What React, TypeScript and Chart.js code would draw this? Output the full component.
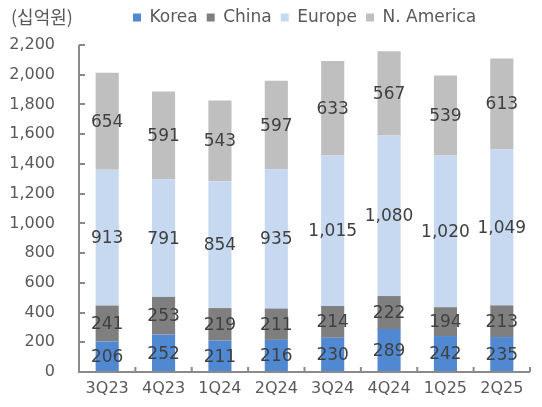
import React, { useEffect, useRef } from "react";
import { Chart, registerables } from "chart.js";

Chart.register(...registerables);

const categories = ["3Q23", "4Q23", "1Q24", "2Q24", "3Q24", "4Q24", "1Q25", "2Q25"];
const korea = [206, 252, 211, 216, 230, 289, 242, 235];
const china = [241, 253, 219, 211, 214, 222, 194, 213];
const europe = [913, 791, 854, 935, 1015, 1080, 1020, 1049];
const nAmerica = [654, 591, 543, 597, 633, 567, 539, 613];
const seriesNames = ["Korea", "China", "Europe", "N. America"];
const unitLabel = "(십억원)";

const FONT = "'DejaVu Sans', sans-serif";
const TEXT = "#595959";
const AXIS = "#8a8a8a";

const fmt = (v: number) => v.toLocaleString("en-US");

const overlayPlugin = {
  id: "overlay",
  afterLayout(chart: any) {
    const lg = chart.legend;
    if (lg) {
      lg.left += 124;
      lg.right += 124;
      lg.top -= 9;
      lg.bottom -= 9;
    }
  },
  afterDatasetsDraw(chart: any) {
    const ctx = chart.ctx;
    ctx.save();
    ctx.font = `17px ${FONT}`;
    ctx.fillStyle = "#404040";
    ctx.textAlign = "center";
    ctx.textBaseline = "middle";
    chart.data.datasets.forEach((ds: any, di: number) => {
      const meta = chart.getDatasetMeta(di);
      meta.data.forEach((bar: any, i: number) => {
        const y = (bar.y + bar.base) / 2;
        ctx.fillText(fmt(ds.data[i]), bar.x, y + 1);
      });
    });
    ctx.restore();
  },
  afterDraw(chart: any) {
    const ctx = chart.ctx;
    const xs = chart.scales.x;
    const ys = chart.scales.y;
    const area = chart.chartArea;
    ctx.save();
    ctx.strokeStyle = AXIS;
    ctx.lineWidth = 2;
    ctx.beginPath();
    ctx.moveTo(area.left, ys.getPixelForValue(2200));
    ctx.lineTo(area.left, area.bottom);
    ctx.lineTo(area.right, area.bottom);
    ys.ticks.forEach((t: any) => {
      const y = Math.round(ys.getPixelForValue(t.value));
      ctx.moveTo(area.left, y);
      ctx.lineTo(area.left + 6, y);
    });
    const n = categories.length;
    for (let k = 0; k <= n; k++) {
      const x =
        k === 0
          ? area.left
          : k === n
          ? area.right
          : (xs.getPixelForValue(k - 1) + xs.getPixelForValue(k)) / 2;
      ctx.moveTo(x, area.bottom);
      ctx.lineTo(x, area.bottom - 5);
    }
    ctx.stroke();
    ctx.font = `18px 'Noto Sans CJK KR', ${FONT}`;
    ctx.fillStyle = TEXT;
    ctx.textAlign = "left";
    ctx.textBaseline = "middle";
    ctx.fillText(unitLabel, 11, 17);
    ctx.restore();
  },
};

export default function App() {
  const ref = useRef<HTMLCanvasElement | null>(null);
  useEffect(() => {
    document.body.style.margin = "0";
    const colors = ["#5089d2", "#7f7f7f", "#c6d9f1", "#bfbfbf"];
    const values = [korea, china, europe, nAmerica];
    const chart = new Chart(ref.current as HTMLCanvasElement, {
      type: "bar",
      data: {
        labels: categories,
        datasets: values.map((d, i) => ({
          label: seriesNames[i],
          data: d,
          backgroundColor: colors[i],
          borderWidth: 0,
          categoryPercentage: 1,
          barPercentage: 0.41,
        })),
      },
      options: {
        animation: false,
        responsive: false,
        maintainAspectRatio: false,
        layout: { padding: { left: 0, right: 12, top: 9, bottom: 0 } },
        plugins: {
          legend: {
            position: "top",
            align: "start",
            labels: {
              boxWidth: 8,
              boxHeight: 8,
              padding: 9,
              color: TEXT,
              font: { family: FONT, size: 17 },
            },
          },
          tooltip: { enabled: false },
        },
        scales: {
          x: {
            stacked: true,
            grid: { display: false, drawTicks: false },
            border: { display: false },
            ticks: { color: TEXT, font: { family: FONT, size: 16 }, padding: 7 },
            afterFit: (s: any) => {
              s.height = 35;
            },
          },
          y: {
            stacked: true,
            min: 0,
            max: 2200,
            grid: { display: false, drawTicks: false },
            border: { display: false },
            ticks: {
              stepSize: 200,
              color: TEXT,
              font: { family: FONT, size: 16 },
              padding: 24,
              callback: (v: any) => fmt(Number(v)),
            },
            afterFit: (s: any) => {
              s.width = 79;
            },
          },
        },
      },
      plugins: [overlayPlugin],
    });
    return () => chart.destroy();
  }, []);
  return (
    <div style={{ width: 542, height: 407 }}>
      <canvas ref={ref} width={542} height={407} />
    </div>
  );
}
